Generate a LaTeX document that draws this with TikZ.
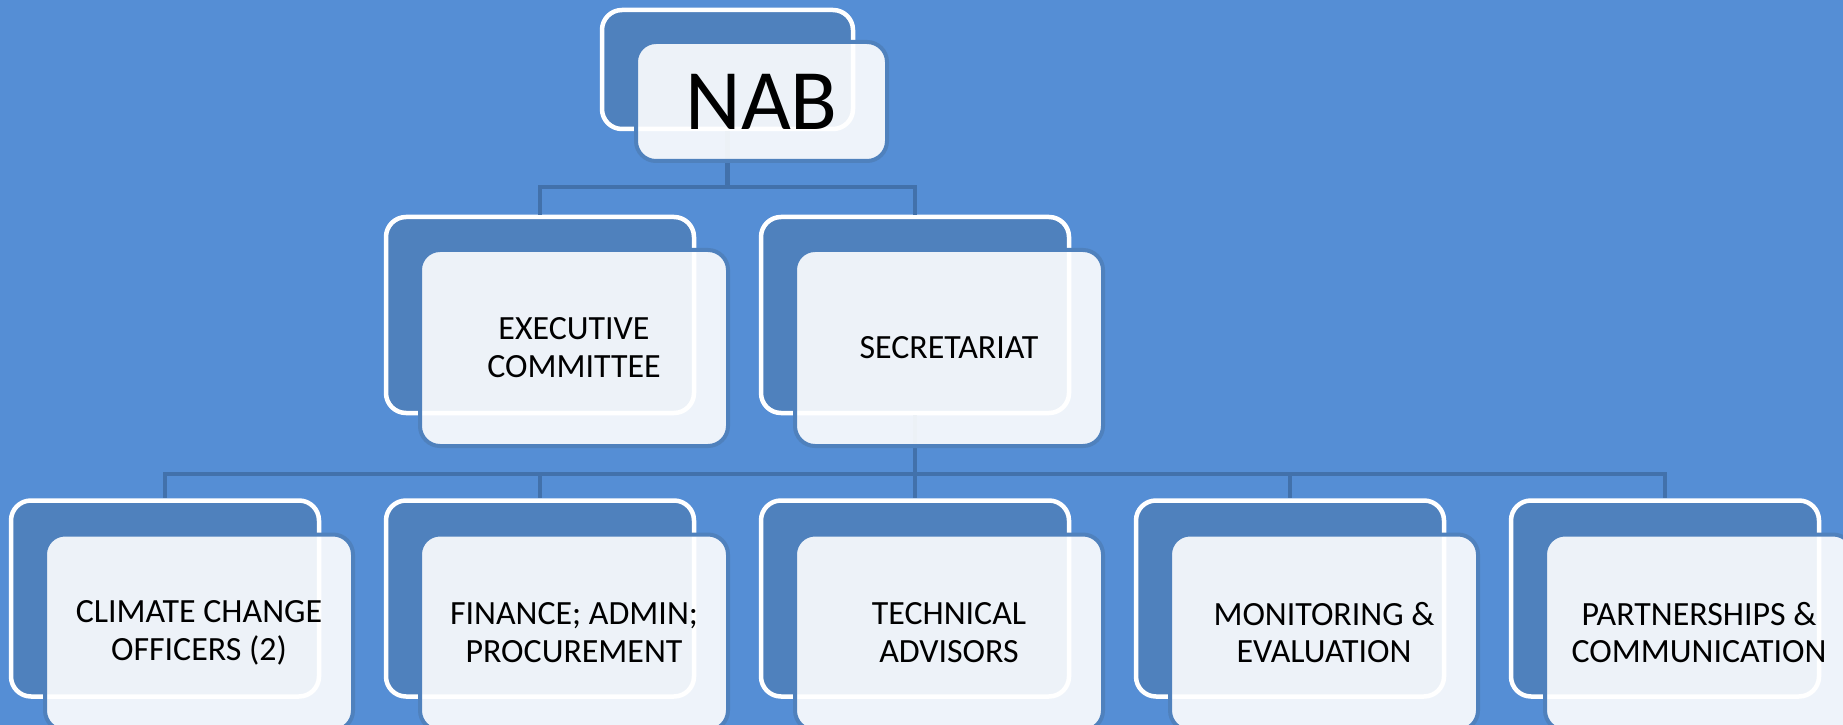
\documentclass[tikz,border=0pt]{standalone}
\usepackage{fontspec}
\setmainfont{Carlito}
\usetikzlibrary{positioning}
\usetikzlibrary{calc}
\definecolor{slide}{RGB}{85,142,213}
\definecolor{boxblue}{RGB}{79,129,189}
\definecolor{linkblue}{RGB}{66,113,171}
\tikzset{back node/.style={rectangle,rounded corners=0.4cm,fill=boxblue,draw=white,line width=0.09cm,minimum width=6.16cm,minimum height=3.92cm,inner sep=0pt},
  front node/.style={back node,fill=white,fill opacity=0.9,text opacity=1,draw=boxblue,line width=0.08cm,text=black,align=center,font=\fontsize{19.3}{21.5}\selectfont},
  top node/.style={minimum width=5.02cm,minimum height=2.38cm},
  link/.style={draw=linkblue,line width=0.09cm},}

\begin{document}
\begin{tikzpicture}
    \clip (0,0) rectangle (36.86,-14.5);
    \fill[slide] (0,0) rectangle (36.86,-14.5);

    % back boxes
    \node[back node] (exec) at (10.8,-6.3) {};
    \node[back node] (sec) [right = 1.25cm of exec] {};
    \node[back node,top node] (nab) at ($(exec)!0.5!(sec)+(0,4.91)$) {};
    \node[back node] (cco) at (3.3,-11.97) {};
    \node[back node] (fin) [right = 1.25cm of cco] {};
    \node[back node] (tech) [right = 1.25cm of fin] {};
    \node[back node] (me) [right = 1.25cm of tech] {};
    \node[back node] (pc) [right = 1.25cm of me] {};

    % connectors
    \path[link] (nab.south) -- ++(0,-1.12) -| (exec.north);
    \path[link] (nab.south) -- ++(0,-1.12) -| (sec.north);
    \path[link] (sec.south) -- ++(0,-1.175) -| (cco.north);
    \path[link] (sec.south) -- ++(0,-1.175) -| (fin.north);
    \path[link] (sec.south) -- ++(0,-1.175) -| (tech.north);
    \path[link] (sec.south) -- ++(0,-1.175) -| (me.north);
    \path[link] (sec.south) -- ++(0,-1.175) -| (pc.north);

    % front boxes
    \node[front node,top node,font=\fontsize{49}{55}\selectfont] (nabf) at ([shift={(0.68,-0.64)}]nab.center) {NAB};
    \node[front node] (execf) at ([shift={(0.68,-0.66)}]exec.center) {EXECUTIVE\\COMMITTEE};
    \node[front node] (secf) at ([shift={(0.68,-0.66)}]sec.center) {SECRETARIAT};
    \node[front node] (ccof) at ([shift={(0.68,-0.68)}]cco.center) {CLIMATE CHANGE\\OFFICERS (2)};
    \node[front node] (finf) at ([shift={(0.68,-0.68)}]fin.center) {FINANCE; ADMIN;\\PROCUREMENT};
    \node[front node] (techf) at ([shift={(0.68,-0.68)}]tech.center) {TECHNICAL\\ADVISORS};
    \node[front node] (mef) at ([shift={(0.68,-0.68)}]me.center) {MONITORING \&\\EVALUATION};
    \node[front node] (pcf) at ([shift={(0.68,-0.68)}]pc.center) {PARTNERSHIPS \&\\COMMUNICATION};
\end{tikzpicture}
\end{document}
